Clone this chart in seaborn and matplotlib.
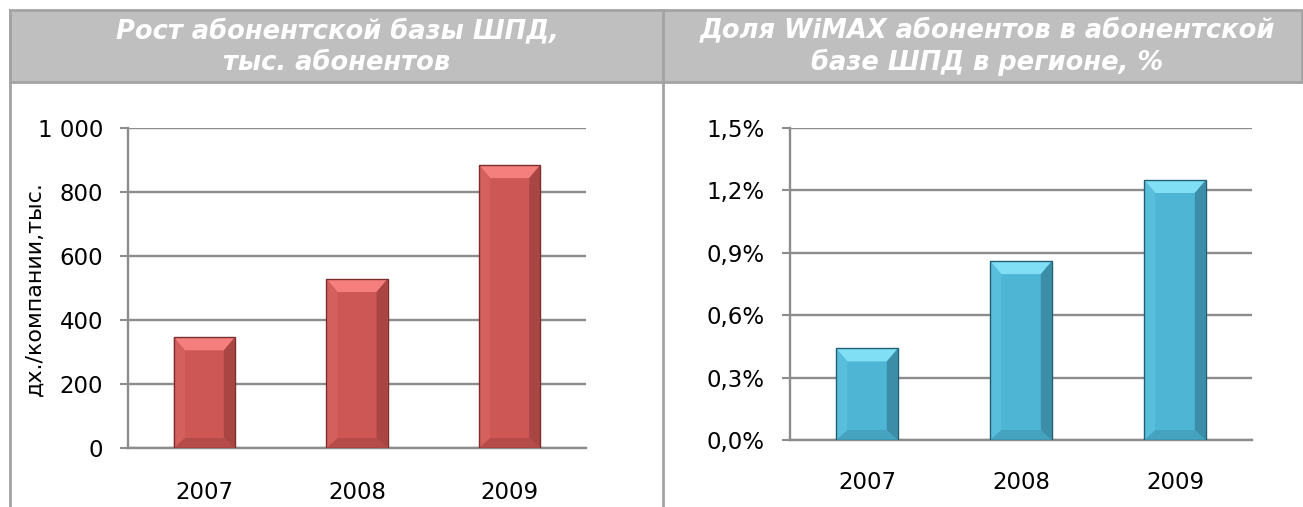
import matplotlib
matplotlib.use("Agg")
import matplotlib.pyplot as plt
from matplotlib.patches import Polygon, Rectangle
from matplotlib.lines import Line2D
from matplotlib.ticker import FuncFormatter
import seaborn as sns
import pandas as pd

# data
years = ["2007", "2008", "2009"]
subscribers = [346, 528, 884]          # тыс. абонентов
wimax_share = [0.44, 0.86, 1.25]       # %

sub_ticks = [0, 200, 400, 600, 800, 1000]
share_ticks = [0.0, 0.3, 0.6, 0.9, 1.2, 1.5]

title_left = "Рост абонентской базы ШПД,\nтыс. абонентов"
title_right = "Доля WiMAX абонентов в абонентской\nбазе ШПД в регионе, %"
ylabel_left = "дх./компании,тыс."

sns.set_style("white")
plt.rcParams["font.family"] = ["DejaVu Sans"]
plt.rcParams["text.color"] = "black"
plt.rcParams["xtick.color"] = "black"
plt.rcParams["ytick.color"] = "black"

W, H = 1303, 507
fig = plt.figure(figsize=(W / 100, H / 100), dpi=100)
fig.patch.set_facecolor("white")

GRID = "#8c8c8c"
BORDER = "#a3a3a3"

# header band and panel separators
fig.add_artist(Rectangle((10 / W, 1 - 82 / H), (W - 11) / W, 72 / H, transform=fig.transFigure,
                         facecolor="#bfbfbf", edgecolor=BORDER, lw=2))
fig.add_artist(Line2D([10 / W, 10 / W], [0, 1 - 10 / H], transform=fig.transFigure, color=BORDER, lw=2))
fig.add_artist(Line2D([663 / W, 663 / W], [0, 1 - 10 / H], transform=fig.transFigure, color=BORDER, lw=2))

tkw = dict(color="white", fontsize=18.5, fontweight="bold", fontstyle="italic",
           ha="center", va="center", linespacing=1.25)
fig.text(337 / W, 1 - 47 / H, title_left, **tkw)
fig.text(987 / W, 1 - 47 / H, title_right, **tkw)
fig.text(35 / W, 1 - 289 / H, ylabel_left, rotation=90, fontsize=16, ha="center", va="center")


def shade(ax, faces):
    face, top, left, right, bottom, edge = faces
    fig.canvas.draw()
    bb = ax.get_window_extent()
    x0, x1 = ax.get_xlim()
    y0, y1 = ax.get_ylim()
    px_x = (x1 - x0) / bb.width
    px_y = (y1 - y0) / bb.height
    for p in ax.patches:
        bx, bw, bh = p.get_x(), p.get_width(), p.get_height()
        p.set_facecolor(face)
        p.set_edgecolor("none")
        sx, ty, by = 11 * px_x, 13 * px_y, 10 * px_y
        L, R, T = bx, bx + bw, bh
        polys = [
            ([(L, T), (R, T), (R - sx, T - ty), (L + sx, T - ty)], top),
            ([(L, 0), (R, 0), (R - sx, by), (L + sx, by)], bottom),
            ([(L, 0), (L + sx, by), (L + sx, T - ty), (L, T)], left),
            ([(R, 0), (R - sx, by), (R - sx, T - ty), (R, T)], right),
        ]
        for pts, c in polys:
            ax.add_patch(Polygon(pts, closed=True, facecolor=c, edgecolor="none", zorder=3))
        ax.add_patch(Rectangle((L, 0), bw, bh, facecolor="none", edgecolor=edge, lw=1, zorder=4))


def style_axis(ax, ticks, fmt, xpad):
    ax.set_xlim(-0.5, 2.5)
    ax.set_ylim(ticks[0], ticks[-1])
    ax.set_yticks(ticks)
    ax.yaxis.set_major_formatter(FuncFormatter(fmt))
    ax.set_xticks([-0.5, 0.5, 1.5, 2.5], minor=True)
    ax.tick_params(axis="x", which="major", length=0, pad=xpad, labelsize=16.5, labelcolor="black")
    ax.tick_params(axis="x", which="minor", length=6, width=1.5, color=GRID, direction="out")
    ax.tick_params(axis="y", length=6, width=1.5, color=GRID, direction="out", pad=12,
                   labelsize=16.5, labelcolor="black", left=True)
    ax.grid(axis="y", color=GRID, lw=1.7, zorder=0)
    ax.set_axisbelow(True)
    for s in ["top", "right"]:
        ax.spines[s].set_visible(False)
    for s in ["left", "bottom"]:
        ax.spines[s].set_color(GRID)
        ax.spines[s].set_linewidth(1.7)
    ax.set_xlabel("")
    ax.set_ylabel("")


df_left = pd.DataFrame({"year": years, "value": subscribers})
df_right = pd.DataFrame({"year": years, "value": wimax_share})

ax1 = fig.add_axes([128 / W, (H - 448) / H, 458 / W, 320 / H])
sns.barplot(data=df_left, x="year", y="value", color="#cd5755", width=0.4, saturation=1, ax=ax1)
style_axis(ax1, sub_ticks, lambda v, p: f"{int(v):,}".replace(",", " "), 24)

ax2 = fig.add_axes([790 / W, (H - 440) / H, 462 / W, 312 / H])
sns.barplot(data=df_right, x="year", y="value", color="#4fb5d4", width=0.4, saturation=1, ax=ax2)
style_axis(ax2, share_ticks, lambda v, p: f"{v:.1f}%".replace(".", ","), 22)

shade(ax1, ["#cd5755", "#f47f7d", "#d4605e", "#a94644", "#b54c4a", "#7a2f2e"])
shade(ax2, ["#4fb5d4", "#80dff5", "#58bedc", "#3c8ea8", "#45a3c0", "#245f71"])

fig.savefig("out.png", dpi=100, facecolor="white")
